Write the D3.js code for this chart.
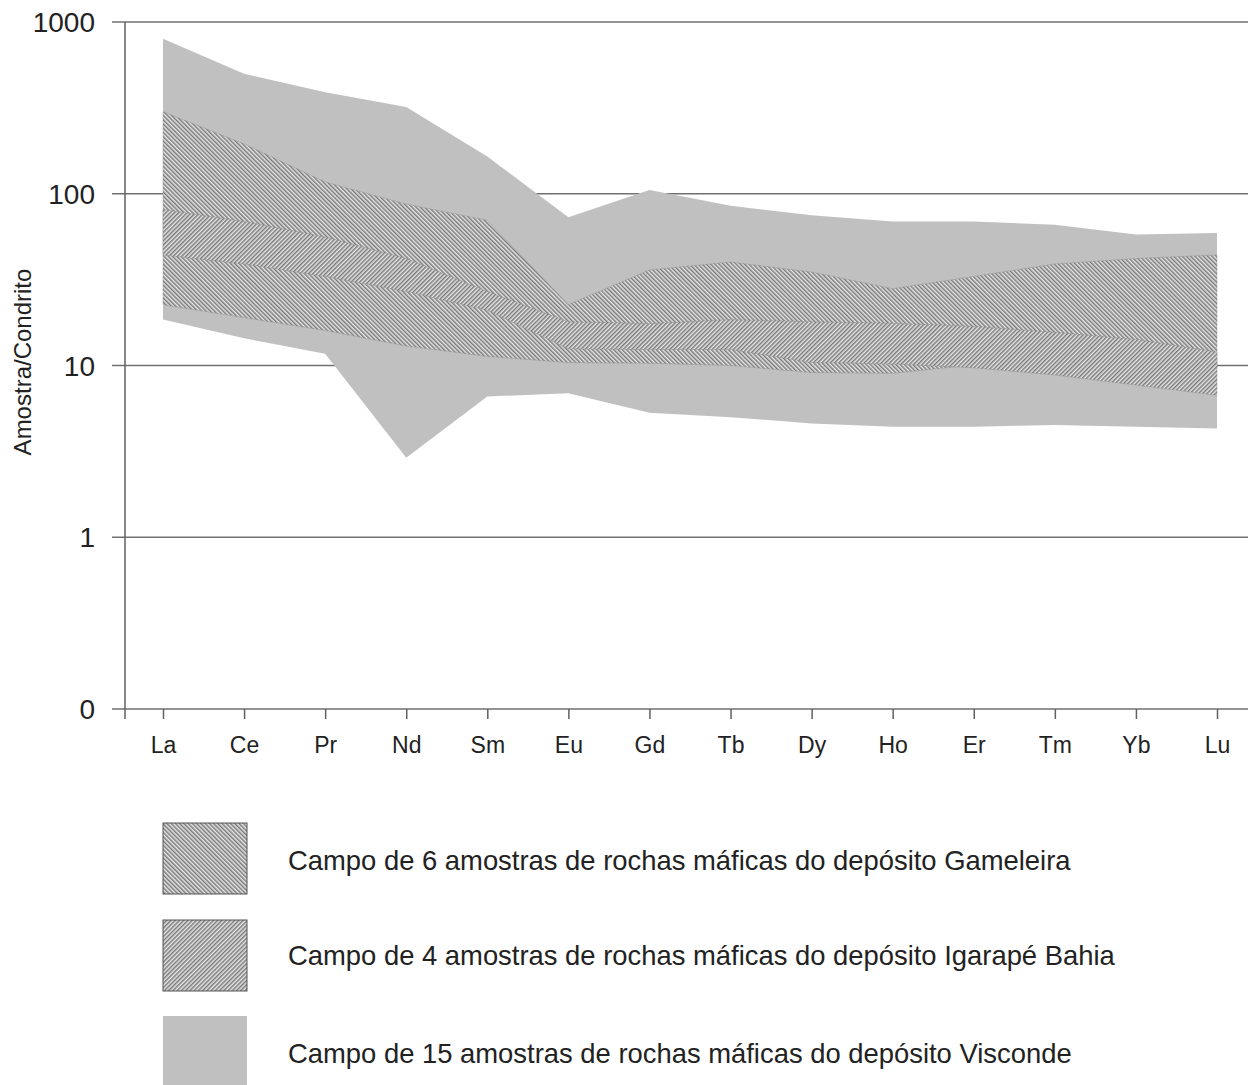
<!DOCTYPE html>
<html>
<head>
<meta charset="utf-8">
<script src="https://cdn.jsdelivr.net/npm/d3@7"></script>
<style>
  html, body { margin: 0; padding: 0; background: #fff; }
  svg { display: block; font-family: "Liberation Sans", Arial, sans-serif; }
</style>
</head>
<body>
<svg id="chart" width="1248" height="1085"></svg>
<script>
// Rare-earth elements (chondrite-normalised spider diagram)
const elements = ["La","Ce","Pr","Nd","Sm","Eu","Gd","Tb","Dy","Ho","Er","Tm","Yb","Lu"];

// Visconde field (15 samples): upper and lower envelopes
const viscondeUpper = [800, 500, 390, 320, 165, 73, 105, 85, 75, 69, 69, 66, 58, 59];
const viscondeLower = [18.5, 14.4, 11.7, 2.9, 6.6, 6.9, 5.3, 5.0, 4.6, 4.4, 4.4, 4.5, 4.4, 4.3];

// Gameleira field (6 samples)
const gameleiraUpper = [300, 195, 117, 87, 70, 22.6, 36, 40, 35, 28, 33, 39, 42, 44];
const gameleiraLower = [22.6, 19, 16, 13, 11.3, 10.4, 10.3, 10.0, 9.1, 9.0, 10.1, 10.0, 9.8, 9.6];

// Igarapé Bahia field (4 samples)
const igarapeUpper = [81, 69, 56, 42, 27, 18, 17.5, 18.5, 18, 17.6, 16.9, 15.6, 14.2, 12];
const igarapeLower = [44, 39, 33, 27, 21, 12.5, 12.4, 12.4, 10.4, 10.2, 9.7, 8.8, 7.7, 6.7];

// Y axis ticks (0.1 is labelled "0")
const yTicks = [0.1, 1, 10, 100, 1000];
const yTickLabels = ["0", "1", "10", "100", "1000"];

const legendLabels = [
  "Campo de 6 amostras de rochas máficas do depósito Gameleira",
  "Campo de 4 amostras de rochas máficas do depósito Igarapé Bahia",
  "Campo de 15 amostras de rochas máficas do depósito Visconde"
];

const svg = d3.select("#chart");
const W = 1248;
const axisX = 125;

const x = d3.scalePoint().domain(elements).range([163, 1217]);
const y = d3.scaleLog().domain([0.1, 1000]).range([709, 22]);

// Hatch patterns
const defs = svg.append("defs");
function hatch(id, angle) {
  const p = defs.append("pattern")
    .attr("id", id)
    .attr("patternUnits", "userSpaceOnUse")
    .attr("width", 3.0).attr("height", 10)
    .attr("patternTransform", `rotate(${angle})`);
  p.append("rect").attr("width", 3.0).attr("height", 10).attr("fill", "#e6e6e6");
  p.append("line").attr("x1", 0.8).attr("x2", 0.8).attr("y1", 0).attr("y2", 10)
    .attr("stroke", "#5a5a5a").attr("stroke-width", 1.15);
}
hatch("hatchBack", -45);   // "\" lines
hatch("hatchFwd", 45);     // "/" lines

// Grid lines and axis frame
const grid = svg.append("g");
grid.selectAll("line.grid")
  .data(yTicks)
  .join("line")
  .attr("x1", 112).attr("x2", W)
  .attr("y1", d => y(d)).attr("y2", d => y(d))
  .attr("stroke", "#707070").attr("stroke-width", 1.5);

grid.append("line")
  .attr("x1", axisX).attr("x2", axisX)
  .attr("y1", y(1000)).attr("y2", y(0.1) + 10)
  .attr("stroke", "#606060").attr("stroke-width", 1.5);

// Y tick labels
svg.append("g").selectAll("text")
  .data(yTicks)
  .join("text")
  .attr("x", 95)
  .attr("y", d => y(d))
  .attr("dy", "0.36em")
  .attr("text-anchor", "end")
  .attr("font-size", 28)
  .attr("fill", "#222")
  .text((d, i) => yTickLabels[i]);

// Y axis title
svg.append("text")
  .attr("transform", "translate(31,362) rotate(-90)")
  .attr("text-anchor", "middle")
  .attr("font-size", 24)
  .attr("fill", "#222")
  .text("Amostra/Condrito");

// Element axis
const xAxis = d3.axisBottom(x).tickSize(10).tickPadding(18);
const gx = svg.append("g")
  .attr("transform", `translate(0,${y(0.1)})`)
  .call(xAxis);
gx.select(".domain").remove();
gx.selectAll(".tick line").attr("stroke", "#606060").attr("stroke-width", 1.5);
gx.selectAll(".tick text")
  .attr("font-size", 23)
  .attr("font-family", "Liberation Sans, Arial, sans-serif")
  .attr("fill", "#222");

// Fields
function band(upper, lower) {
  return d3.area()
    .x((d, i) => x(elements[i]))
    .y0((d, i) => y(lower[i]))
    .y1((d, i) => y(upper[i]))(elements);
}

svg.append("path")
  .attr("d", band(viscondeUpper, viscondeLower))
  .attr("fill", "#c0c0c0");

svg.append("path")
  .attr("d", band(gameleiraUpper, gameleiraLower))
  .attr("fill", "url(#hatchBack)")
  .attr("stroke", "#8a8a8a").attr("stroke-width", 0.4);

svg.append("path")
  .attr("d", band(igarapeUpper, igarapeLower))
  .attr("fill", "url(#hatchFwd)")
  .attr("stroke", "#8a8a8a").attr("stroke-width", 0.4);

// Legend
const legendFills = ["url(#hatchBack)", "url(#hatchFwd)", "#c0c0c0"];
const legendStroke = ["#555", "#555", "none"];
const legendTop = [823, 920, 1016];
const legendBase = [870, 965, 1063];
const lg = svg.append("g");
lg.selectAll("rect")
  .data(legendLabels)
  .join("rect")
  .attr("x", 163).attr("y", (d, i) => legendTop[i])
  .attr("width", 84).attr("height", 71)
  .attr("fill", (d, i) => legendFills[i])
  .attr("stroke", (d, i) => legendStroke[i])
  .attr("stroke-width", 1);
lg.selectAll("text")
  .data(legendLabels)
  .join("text")
  .attr("x", 288).attr("y", (d, i) => legendBase[i])
  .attr("font-size", 27.4)
  .attr("fill", "#222")
  .text(d => d);
</script>
</body>
</html>
